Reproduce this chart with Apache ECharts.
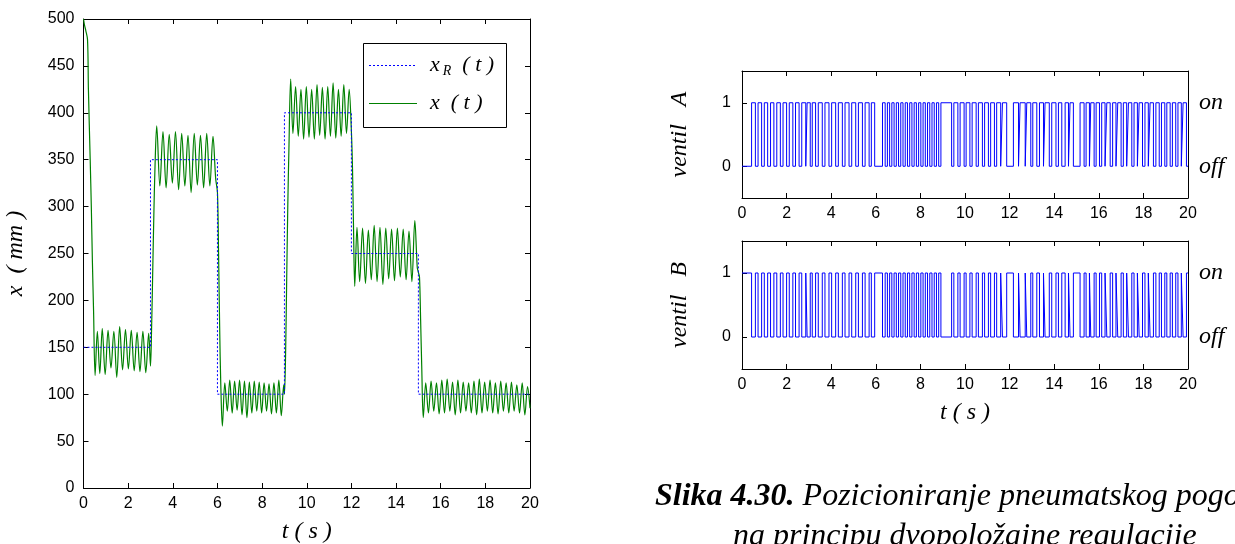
<!DOCTYPE html>
<html><head><meta charset="utf-8">
<script src="https://cdn.jsdelivr.net/npm/echarts@6/dist/echarts.min.js"></script>
<style>html,body{margin:0;padding:0;background:#fff}#c{width:1235px;height:544px}</style>
</head><body><div id="c"></div>
<script>
// ---- data ----
const xTicks = [0,2,4,6,8,10,12,14,16,18,20];
const yTicksLeft = [0,50,100,150,200,250,300,350,400,450,500];
// reference x_R(t): step breakpoints and levels
const xR_t = [0,3,6,9,12,15,20];
const xR_v = [150,350,100,400,250,100];
// measured x(t)
const x_t = [0,0.05,0.1,0.18,0.22,0.3,0.35,0.4,0.45,
 0.52,0.62,0.73,0.84,0.97,1.10,1.23,1.36,1.49,1.62,1.75,1.88,2.01,2.14,2.27,2.40,2.53,2.66,2.79,2.92,3.0,
 3.05,3.1,3.15,3.2,3.28,3.42,3.56,3.70,3.84,3.98,4.12,4.26,4.40,4.54,4.68,4.82,4.96,5.10,5.24,5.38,5.52,5.66,5.80,5.92,6.0,
 6.05,6.1,6.15,6.22,6.33,6.44,6.55,6.66,6.77,6.88,6.99,7.10,7.21,7.32,7.43,7.54,7.65,7.76,7.87,7.98,8.09,8.20,8.31,8.42,8.53,8.64,8.75,8.86,8.97,9.0,
 9.05,9.1,9.15,9.2,9.28,9.38,9.5,9.62,9.74,9.86,9.98,10.10,10.22,10.34,10.46,10.58,10.70,10.82,10.94,11.06,11.18,11.30,11.42,11.54,11.66,11.78,11.90,12.0,
 12.05,12.1,12.15,12.25,12.37,12.5,12.63,12.76,12.89,13.02,13.15,13.28,13.41,13.54,13.67,13.8,13.93,14.06,14.19,14.32,14.45,14.58,14.71,14.84,14.95,15.0,15.05,
 15.1,15.15,15.22,15.33,15.45,15.57,15.69,15.81,15.93,16.05,16.17,16.29,16.41,16.53,16.65,16.77,16.89,17.01,17.13,17.25,17.37,17.49,17.61,17.73,17.85,17.97,18.09,18.21,18.33,18.45,18.57,18.69,18.81,18.93,19.05,19.17,19.29,19.41,19.53,19.65,19.77,19.89,20.0];
const x_v = [500,493,488,478,425,350,300,240,190,
 120,167,122,170,121,168,128,167,118,172,126,169,127,168,125,166,124,167,123,165,130,
 170,230,290,340,386,322,380,320,377,325,380,318,378,322,376,315,378,323,376,320,378,322,375,330,315,
 250,170,110,66,112,82,115,80,114,83,115,78,114,75,113,80,114,82,113,80,112,82,111,79,112,80,115,77,110,100,
 140,220,300,360,436,378,428,375,425,372,428,374,425,372,430,376,427,372,428,375,432,373,425,375,430,378,425,380,
 340,270,215,278,220,277,218,275,222,280,220,278,217,277,223,276,221,277,225,276,222,274,220,285,235,230,225,
 180,130,75,112,80,114,82,112,79,115,80,116,82,113,78,115,80,113,82,112,80,114,78,116,80,113,82,115,80,112,79,114,82,112,80,113,82,110,80,112,78,108,85];
// valve A: "on" intervals (start / end times)
const valveA_onStart = [0.43,0.72,1.00,1.28,1.56,1.84,2.12,2.40,2.68,2.92,3.15,3.42,3.72,4.02,4.32,4.62,4.92,5.22,5.52,5.80,
 6.30,6.52,6.72,6.92,7.12,7.32,7.52,7.72,7.92,8.12,8.32,8.52,8.72,8.92,9.50,9.78,10.05,10.32,10.60,10.88,11.15,11.42,11.68,
 12.17,12.47,12.77,13.04,13.34,13.59,13.89,14.19,14.49,14.71,
 15.16,15.43,15.64,15.88,16.13,16.36,16.62,16.85,17.10,17.33,17.58,17.81,18.07,18.30,18.56,18.81,19.05,19.30,19.55,19.78];
const valveA_onEnd = [0.60,0.88,1.15,1.43,1.72,2.00,2.28,2.56,2.86,3.06,3.30,3.60,3.90,4.20,4.50,4.80,5.10,5.40,5.70,5.95,
 6.42,6.62,6.82,7.02,7.22,7.42,7.62,7.82,8.02,8.22,8.42,8.62,8.82,9.40,9.68,9.96,10.22,10.50,10.78,11.05,11.32,11.60,11.87,
 12.40,12.70,12.95,13.22,13.52,13.78,14.08,14.34,14.64,14.86,
 15.34,15.58,15.79,16.03,16.28,16.51,16.77,17.00,17.25,17.48,17.73,17.96,18.22,18.45,18.71,18.96,19.20,19.45,19.70,19.93];
// valve B: "off" intervals (start / end times)
const valveB_offStart = [0.43,0.72,1.00,1.28,1.56,1.84,2.12,2.40,2.68,2.92,3.15,3.42,3.72,4.02,4.32,4.62,4.92,5.22,5.52,5.80,
 6.30,6.52,6.72,6.92,7.12,7.32,7.52,7.72,7.92,8.12,8.32,8.52,8.72,8.92,9.50,9.78,10.05,10.32,10.60,10.88,11.15,11.42,11.68,
 12.17,12.47,12.77,13.04,13.34,13.59,13.89,14.19,14.49,14.71,
 15.16,15.43,15.64,15.88,16.13,16.36,16.62,16.85,17.10,17.33,17.58,17.81,18.07,18.30,18.56,18.81,19.05,19.30,19.55,19.78];
const valveB_offEnd = [0.60,0.88,1.15,1.43,1.72,2.00,2.28,2.56,2.86,3.06,3.30,3.60,3.90,4.20,4.50,4.80,5.10,5.40,5.70,5.95,
 6.42,6.62,6.82,7.02,7.22,7.42,7.62,7.82,8.02,8.22,8.42,8.62,8.82,9.40,9.68,9.96,10.22,10.50,10.78,11.05,11.32,11.60,11.87,
 12.40,12.70,12.95,13.22,13.52,13.78,14.08,14.34,14.64,14.86,
 15.34,15.58,15.79,16.03,16.28,16.51,16.77,17.00,17.25,17.48,17.73,17.96,18.22,18.45,18.71,18.96,19.20,19.45,19.70,19.93];
const valveTicks = [0,1];

// ---- build series data ----
function stepLevels(ts, vs){const d=[];for(let i=0;i<vs.length;i++){d.push([ts[i],vs[i]]);d.push([ts[i+1],vs[i]]);}return d;}
function pulses(base, starts, ends, endT){const hi=1-base;const d=[[0,base]];for(let i=0;i<starts.length;i++){d.push([starts[i],base],[starts[i],hi],[ends[i],hi],[ends[i],base]);}d.push([endT,base]);return d;}
const xData = x_t.map((t,i)=>[t,x_v[i]]);

const sans = 'Liberation Sans';
const serif = 'Liberation Serif';
const lab = {color:'#000', fontFamily:sans, fontSize:16};
const tickIn = (len)=>({show:true, inside:true, length:len, lineStyle:{color:'#000'}});
const line = {show:true, onZero:false, lineStyle:{color:'#000', width:1}};
const nameStyle = {fontFamily:serif, fontStyle:'italic', fontSize:24, color:'#000'};

function xAxes(gi, name){
  return [
    {gridIndex:gi, type:'value', min:0, max:20, interval:2, position:'bottom', axisLine:line, axisTick:tickIn(5),
     axisLabel:{...lab, margin:8}, splitLine:{show:false},
     name:name||'', nameLocation:'middle', nameGap:32, nameTextStyle:nameStyle},
    {gridIndex:gi, type:'value', min:0, max:20, interval:2, position:'top', axisLine:line, axisTick:tickIn(5),
     axisLabel:{show:false}, splitLine:{show:false}}
  ];
}
function valveY(gi, name){
  return [
    {gridIndex:gi, type:'value', min:-0.5, max:1.5, interval:0.5, position:'left', axisLine:line,
     axisTick:{...tickIn(5), customValues:valveTicks}, axisLabel:{...lab, margin:11, customValues:valveTicks}, splitLine:{show:false},
     name:name, nameLocation:'middle', nameGap:50, nameRotate:90, nameTextStyle:nameStyle},
    {gridIndex:gi, type:'value', min:-0.5, max:1.5, interval:0.5, position:'right', axisLine:line,
     axisTick:{show:false}, axisLabel:{show:true, margin:11, customValues:valveTicks, fontFamily:serif, fontStyle:'italic', fontSize:24, color:'#000',
     formatter:v=> v===1?'on':'off'}, splitLine:{show:false}}
  ];
}

const option = {
  animation:false,
  backgroundColor:'#fff',
  grid:[
    {left:83.5, top:19, width:446.5, height:469, containLabel:false, outerBoundsMode:'none'},
    {left:742, top:71, width:446, height:127, containLabel:false, outerBoundsMode:'none'},
    {left:742, top:241, width:446, height:128, containLabel:false, outerBoundsMode:'none'}
  ],
  xAxis:[
    ...xAxes(0, 't ( s )'),
    ...xAxes(1, ''),
    ...xAxes(2, 't ( s )')
  ],
  yAxis:[
    {gridIndex:0, type:'value', min:0, max:500, interval:50, position:'left', axisLine:line, axisTick:tickIn(5),
     axisLabel:{...lab, margin:9}, splitLine:{show:false},
     name:'x  ( mm )', nameLocation:'middle', nameGap:56, nameRotate:90, nameTextStyle:nameStyle},
    {gridIndex:0, type:'value', min:0, max:500, interval:50, position:'right', axisLine:line, axisTick:tickIn(5),
     axisLabel:{show:false}, splitLine:{show:false}},
    ...valveY(1, 'ventil   A'),
    ...valveY(2, 'ventil   B')
  ],
  series:[
    {type:'line', xAxisIndex:0, yAxisIndex:0, data:stepLevels(xR_t, xR_v), showSymbol:false, symbol:'none',
     lineStyle:{color:'#0000ff', width:1, type:[2,2]}, z:3},
    {type:'line', xAxisIndex:0, yAxisIndex:0, data:xData, showSymbol:false, symbol:'none', smooth:0.35,
     lineStyle:{color:'#008000', width:1.2}, z:2},
    {type:'line', xAxisIndex:2, yAxisIndex:2, data:pulses(0, valveA_onStart, valveA_onEnd, 20), showSymbol:false, symbol:'none',
     lineStyle:{color:'#0000ff', width:1}},
    {type:'line', xAxisIndex:4, yAxisIndex:4, data:pulses(1, valveB_offStart, valveB_offEnd, 20), showSymbol:false, symbol:'none',
     lineStyle:{color:'#0000ff', width:1}}
  ],
  graphic:[
    {type:'rect', shape:{x:363.5, y:43.5, width:143, height:84}, style:{fill:'#fff', stroke:'#000', lineWidth:1}, z:10},
    {type:'line', shape:{x1:369, y1:65.5, x2:417, y2:65.5}, style:{stroke:'#0000ff', lineWidth:1, lineDash:[2,2]}, z:11},
    {type:'line', shape:{x1:369, y1:103.5, x2:417, y2:103.5}, style:{stroke:'#008000', lineWidth:1.2}, z:11},
    {type:'text', x:430, y:65, z:11, style:{text:'{a|x}{s|R}{a|  ( t )}', verticalAlign:'middle',
      rich:{a:{fontFamily:serif, fontStyle:'italic', fontSize:22, fill:'#000'}, s:{fontFamily:serif, fontStyle:'italic', fontSize:14, fill:'#000', padding:[12,0,0,3]}}}},
    {type:'text', x:430, y:103, z:11, style:{text:'x  ( t )', verticalAlign:'middle', fontFamily:serif, fontStyle:'italic', fontSize:22, fill:'#000'}},
    {type:'text', x:655, y:497, style:{text:'{b|Slika 4.30.}{i| Pozicioniranje pneumatskog pogona}', verticalAlign:'middle',
      rich:{b:{fontFamily:serif, fontStyle:'italic', fontWeight:'bold', fontSize:32, fill:'#000'}, i:{fontFamily:serif, fontStyle:'italic', fontSize:32, fill:'#000'}}}},
    {type:'text', x:733, y:537, style:{text:'na principu dvopoložajne regulacije', verticalAlign:'middle', fontFamily:serif, fontStyle:'italic', fontSize:32, fill:'#000'}}
  ]
};
const chart = echarts.init(document.getElementById('c'), null, {renderer:'canvas'});
chart.setOption(option);
</script></body></html>
